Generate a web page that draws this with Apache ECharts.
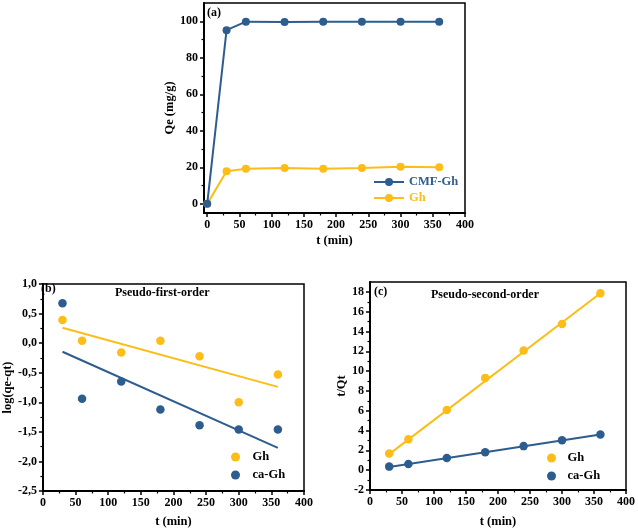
<!DOCTYPE html>
<html>
<head>
<meta charset="utf-8">
<script src="https://cdn.jsdelivr.net/npm/echarts@6/dist/echarts.min.js"></script>
<style>html,body{margin:0;padding:0;background:#fff}#c{width:638px;height:531px}</style>
</head>
<body>
<div id="c"></div>
<script>
// ---- data ----
const tA = [0, 30, 60, 120, 180, 240, 300, 360];
const qeCMF = [0, 95.1, 99.8, 99.6, 99.8, 99.8, 99.8, 99.8];
const qeGh = [0, 17.9, 19.2, 19.7, 19.2, 19.7, 20.3, 20.1];

const tB = [30, 60, 120, 180, 240, 300, 360];
const pfoGh = [0.39, 0.04, -0.16, 0.04, -0.22, -1.0, -0.53];
const pfoCaGh = [0.675, -0.94, -0.65, -1.12, -1.39, -1.46, -1.46];
const pfoFitT = [30, 360];
const pfoFitGh = [0.26, -0.74];
const pfoFitCaGh = [-0.145, -1.77];

const psoGh = [1.68, 3.13, 6.07, 9.32, 12.09, 14.76, 17.86];
const psoCaGh = [0.36, 0.63, 1.24, 1.82, 2.43, 3.03, 3.6];
const psoFitGh = [1.62, 17.86];
const psoFitCaGh = [0.33, 3.6];

// ---- ticks ----
const xTicks = [0, 50, 100, 150, 200, 250, 300, 350, 400];
const xMinor = [25, 75, 125, 175, 225, 275, 325, 375];
const yTicksA = [0, 20, 40, 60, 80, 100];
const yMinorA = [10, 30, 50, 70, 90];
const yTicksB = [-2.5, -2.0, -1.5, -1.0, -0.5, 0.0, 0.5, 1.0];
const yMinorB = [-2.25, -1.75, -1.25, -0.75, -0.25, 0.25, 0.75];
const yTicksC = [-2, 0, 2, 4, 6, 8, 10, 12, 14, 16, 18];
const yMinorC = [-1, 1, 3, 5, 7, 9, 11, 13, 15, 17];

const BLUE = '#2d5d8f', YEL = '#fcbd18';
const FF = 'Liberation Serif';
const zip = (a, b) => a.map((v, i) => [v, b[i]]);

const xAxes = [], yAxes = [];
function addAxes(list, dim, grid, min, max, majors, minors, fmt, name, nameGap, margin) {
  const base = {type: 'value', gridIndex: grid, min: min, max: max,
    position: dim === 'x' ? 'bottom' : 'left', splitLine: {show: false}};
  list.push(Object.assign({}, base, {
    name: name, nameLocation: 'middle', nameGap: nameGap,
    nameTextStyle: {fontFamily: FF, fontWeight: 'bold', fontSize: 12.5, color: '#000'},
    axisLine: {show: true, onZero: false, lineStyle: {color: '#000', width: 2}},
    axisTick: {show: true, inside: false, length: 4, customValues: majors, lineStyle: {color: '#000', width: 1.5}},
    axisLabel: {show: true, customValues: majors, margin: margin, formatter: fmt,
      fontFamily: FF, fontWeight: 'bold', fontSize: 12, color: '#000'}
  }));
  list.push(Object.assign({}, base, {
    axisLine: {show: false, onZero: false},
    axisTick: {show: true, inside: false, length: 2.5, customValues: minors, lineStyle: {color: '#000', width: 1.2}},
    axisLabel: {show: false}
  }));
}
const intFmt = v => String(Math.round(v));
const commaFmt = v => v.toFixed(1).replace('.', ',');

// grid 0 (a)
addAxes(xAxes, 'x', 0, -5, 400, xTicks, xMinor, intFmt, 't (min)', 21, 6);
addAxes(yAxes, 'y', 0, -5, 110, yTicksA, yMinorA, intFmt, 'Qe (mg/g)', 24, 6);
// grid 1 (b)
addAxes(xAxes, 'x', 1, 0, 400, xTicks, xMinor, intFmt, 't (min)', 24, 6);
addAxes(yAxes, 'y', 1, -2.5, 1.0, yTicksB, yMinorB, commaFmt, 'log(qe-qt)', 27, 6);
// grid 2 (c)
addAxes(xAxes, 'x', 2, 0, 400, xTicks, xMinor, intFmt, 't (min)', 25, 6);
addAxes(yAxes, 'y', 2, -2, 19, yTicksC, yMinorC, intFmt, 't/Qt', 21, 6);

const gridStyle = {show: true, borderColor: '#000', borderWidth: 1.5, backgroundColor: 'transparent', containLabel: false};
const titleStyle = {fontFamily: FF, fontWeight: 'bold', fontSize: 12, color: '#000'};
const legText = {fontFamily: FF, fontWeight: 'bold', fontSize: 12.5, color: '#000', lineHeight: 14};

const option = {
  animation: false,
  backgroundColor: '#fff',
  grid: [
    Object.assign({left: 204, top: 3, width: 261, height: 210}, gridStyle),
    Object.assign({left: 39, top: 284, width: 265, height: 207}, gridStyle),
    Object.assign({left: 370, top: 282, width: 258, height: 208}, gridStyle)
  ],
  title: [
    {text: '(a)', left: 207, top: 7, padding: 0, textStyle: titleStyle},
    {text: '(b)', left: 41, top: 283, padding: 0, textStyle: titleStyle},
    {text: 'Pseudo-first-order', left: 115, top: 287, padding: 0, textStyle: titleStyle},
    {text: '(c)', left: 374, top: 286, padding: 0, textStyle: titleStyle},
    {text: 'Pseudo-second-order', left: 431, top: 289, padding: 0, textStyle: titleStyle}
  ],
  xAxis: xAxes,
  yAxis: yAxes,
  legend: [
    {orient: 'vertical', left: 373, top: 175, padding: 0, itemGap: 2, itemWidth: 30, itemHeight: 10,
      formatter: n => n.split(':')[1], textStyle: legText,
      data: [{name: 'a:CMF-Gh', textStyle: {color: BLUE}}, {name: 'a:Gh', textStyle: {color: YEL}}]},
    {orient: 'vertical', left: 231, top: 450, padding: 0, itemGap: 4, itemWidth: 24, itemHeight: 9, icon: 'circle',
      formatter: n => n.split(':')[1], textStyle: legText, data: ['b:Gh', 'b:ca-Gh']},
    {orient: 'vertical', left: 547, top: 451, padding: 0, itemGap: 4, itemWidth: 22, itemHeight: 9, icon: 'circle',
      formatter: n => n.split(':')[1], textStyle: legText, data: ['c:Gh', 'c:ca-Gh']}
  ],
  series: [
    {name: 'a:CMF-Gh', type: 'line', xAxisIndex: 0, yAxisIndex: 0, data: zip(tA, qeCMF),
      symbol: 'circle', symbolSize: 8, color: BLUE, lineStyle: {width: 2, color: BLUE}, itemStyle: {color: BLUE}, z: 3},
    {name: 'a:Gh', type: 'line', xAxisIndex: 0, yAxisIndex: 0, data: zip(tA, qeGh),
      symbol: 'circle', symbolSize: 8, color: YEL, lineStyle: {width: 2, color: YEL}, itemStyle: {color: YEL}, z: 2},

    {name: 'b:fitGh', type: 'line', xAxisIndex: 2, yAxisIndex: 2, data: zip(pfoFitT, pfoFitGh),
      symbol: 'none', lineStyle: {width: 2, color: YEL}},
    {name: 'b:fitCaGh', type: 'line', xAxisIndex: 2, yAxisIndex: 2, data: zip(pfoFitT, pfoFitCaGh),
      symbol: 'none', lineStyle: {width: 2, color: BLUE}},
    {name: 'b:Gh', type: 'scatter', xAxisIndex: 2, yAxisIndex: 2, data: zip(tB, pfoGh),
      symbol: 'circle', symbolSize: 8.5, itemStyle: {color: YEL, opacity: 1}},
    {name: 'b:ca-Gh', type: 'scatter', xAxisIndex: 2, yAxisIndex: 2, data: zip(tB, pfoCaGh),
      symbol: 'circle', symbolSize: 8.5, itemStyle: {color: BLUE, opacity: 1}},

    {name: 'c:fitGh', type: 'line', xAxisIndex: 4, yAxisIndex: 4, data: zip(pfoFitT, psoFitGh),
      symbol: 'none', lineStyle: {width: 2, color: YEL}},
    {name: 'c:fitCaGh', type: 'line', xAxisIndex: 4, yAxisIndex: 4, data: zip(pfoFitT, psoFitCaGh),
      symbol: 'none', lineStyle: {width: 2, color: BLUE}},
    {name: 'c:Gh', type: 'scatter', xAxisIndex: 4, yAxisIndex: 4, data: zip(tB, psoGh),
      symbol: 'circle', symbolSize: 8.5, itemStyle: {color: YEL, opacity: 1}},
    {name: 'c:ca-Gh', type: 'scatter', xAxisIndex: 4, yAxisIndex: 4, data: zip(tB, psoCaGh),
      symbol: 'circle', symbolSize: 8.5, itemStyle: {color: BLUE, opacity: 1}}
  ]
};
const chart = echarts.init(document.getElementById('c'), null, {renderer: 'canvas'});
chart.setOption(option);
</script>
</body>
</html>
